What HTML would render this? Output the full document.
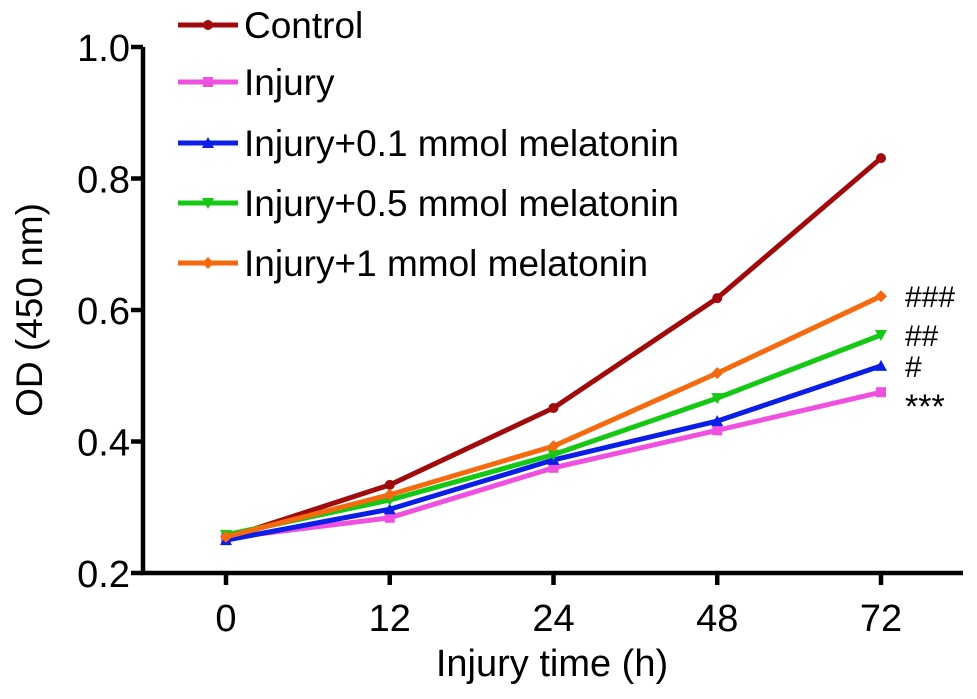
<!DOCTYPE html>
<html><head><meta charset="utf-8"><style>
body{margin:0;background:#fff}
text{font-family:"Liberation Sans",Arial,sans-serif;fill:#000}
</style></head><body>
<svg id="c" width="977" height="694"></svg>
<script>
const categories=["0","12","24","48","72"];
const yTicks=[0.2,0.4,0.6,0.8,1.0];
const seriesNames=["Control","Injury","Injury+0.1 mmol melatonin","Injury+0.5 mmol melatonin","Injury+1 mmol melatonin"];
const control=[0.253,0.334,0.451,0.618,0.831];
const injury=[0.253,0.284,0.360,0.417,0.475];
const mel01=[0.250,0.297,0.372,0.431,0.515];
const mel05=[0.258,0.311,0.380,0.466,0.562];
const mel1=[0.255,0.319,0.393,0.504,0.621];
const annotations=["###","##","#","***"];
const colors=["#a00a0a","#f050e0","#0a1ee6","#14c814","#f56a0f"];
const markers=["circle","square","tri","tridown","diamond"];
const allSeries=[control,injury,mel01,mel05,mel1];
const NS="http://www.w3.org/2000/svg";
const svg=document.getElementById('c');
function el(t,a,p){const e=document.createElementNS(NS,t);for(const k in a)e.setAttribute(k,a[k]);(p||svg).appendChild(e);return e;}
const x0=143,y0=573,yTop=47;
function yS(v){return y0-(v-0.2)/0.8*(y0-yTop);}
const xPos=[226,389,553,717,881];
function xS(i){return xPos[0]+(xPos[4]-xPos[0])*i/(categories.length-1);}
let a=el('line',{x1:x0,y1:yTop,x2:x0,y2:y0+2,stroke:'#000','stroke-width':4.5});

a=el('line',{x1:x0-2,y1:y0,x2:963,y2:y0,stroke:'#000','stroke-width':4.5});

yTicks.forEach(v=>{
 el('line',{x1:x0-12,y1:yS(v),x2:x0,y2:yS(v),stroke:'#000','stroke-width':4.5});
 const t=el('text',{x:x0-13,y:yS(v)+14,'text-anchor':'end','font-size':38});t.textContent=v.toFixed(1);
 
});
categories.forEach((c,i)=>{
 el('line',{x1:xS(i),y1:y0,x2:xS(i),y2:y0+12,stroke:'#000','stroke-width':4.5});
 const t=el('text',{x:xS(i),y:y0+58,'text-anchor':'middle','font-size':38});t.textContent=c;
 
});
let t=el('text',{x:552,y:676,'text-anchor':'middle','font-size':38});t.textContent='Injury time (h)';

t=el('text',{x:0,y:0,'text-anchor':'middle','font-size':37,transform:'translate(42,310) rotate(-90)'});t.textContent='OD (450 nm)';

function marker(type,x,y,col){
 if(type=='circle')return el('circle',{cx:x,cy:y,r:5,fill:col});
 if(type=='square')return el('rect',{x:x-5,y:y-5,width:10,height:10,fill:col});
 if(type=='tri')return el('polygon',{points:`${x},${y-6} ${x-6},${y+5} ${x+6},${y+5}`,fill:col});
 if(type=='tridown')return el('polygon',{points:`${x},${y+6} ${x-6},${y-5} ${x+6},${y-5}`,fill:col});
 return el('polygon',{points:`${x},${y-6} ${x+6},${y} ${x},${y+6} ${x-6},${y}`,fill:col});
}
allSeries.forEach((s,k)=>{
 const p=el('polyline',{points:s.map((v,i)=>xS(i)+','+yS(v)).join(' '),fill:'none',stroke:colors[k],'stroke-width':5});
 
 s.forEach((v,i)=>{const m=marker(markers[k],xS(i),yS(v),colors[k]);
  });
});
const legY=[25,82,143,203,263];
seriesNames.forEach((n,k)=>{
 const g=el('g',{});
 
 el('line',{x1:178,y1:legY[k],x2:238,y2:legY[k],stroke:colors[k],'stroke-width':5},g);
 const m=marker(markers[k],208,legY[k],colors[k]);g.appendChild(m);
 const tt=el('text',{x:244,y:legY[k]+13,'font-size':37},g);tt.textContent=n;
});
const annY=[yS(mel1[4]),yS(mel05[4]),yS(mel01[4]),yS(injury[4])+14];
annotations.forEach((s,i)=>{
 const tt=el('text',{x:905,y:annY[i]+(i==3?12:11),'font-size':i==3?34:30});tt.textContent=s;
 
});
</script>
</body></html>
